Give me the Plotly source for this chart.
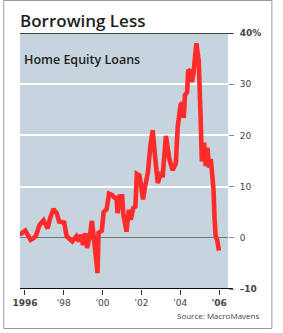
import plotly.graph_objects as go

# Data: year-over-year % change in home equity loans
years = [1995.75, 1995.81, 1996.02, 1996.15, 1996.29, 1996.46, 1996.57, 1996.75, 1996.96, 1997.17,
         1997.30, 1997.47, 1997.64, 1997.76, 1998.02, 1998.15, 1998.44, 1998.65, 1998.78, 1998.89,
         1998.99, 1999.11, 1999.20, 1999.34, 1999.45, 1999.57, 1999.67, 1999.74, 1999.79, 1999.96,
         2000.05, 2000.21, 2000.33, 2000.47, 2000.63, 2000.72, 2000.77, 2000.89, 2001.01, 2001.06,
         2001.23, 2001.35, 2001.45, 2001.57, 2001.69, 2001.76, 2001.90, 2002.08, 2002.19, 2002.33,
         2002.46, 2002.58, 2002.70, 2002.84, 2003.01, 2003.09, 2003.26, 2003.43, 2003.60, 2003.77,
         2003.87, 2004.02, 2004.10, 2004.18, 2004.24, 2004.35, 2004.41, 2004.52, 2004.60, 2004.68,
         2004.83, 2004.95, 2005.05, 2005.11, 2005.23, 2005.31, 2005.40, 2005.48, 2005.57, 2005.66,
         2005.71, 2005.76, 2005.82, 2005.90, 2005.99]
values = [0.8, 0.8, 1.4, 0.6, -0.4, 0.0, 0.4, 2.5, 3.4, 1.8,
          3.9, 5.6, 4.8, 3.2, 3.0, 0.3, -0.7, 0.3, -0.7, 0.6,
          -1.4, 0.9, -2.0, 0.3, 3.3, -0.7, -6.0, -6.9, 1.0, 1.4,
          5.0, 5.6, 8.6, 8.4, 7.8, 7.8, 4.8, 8.1, 8.1, 4.8,
          1.2, 5.5, 3.5, 5.8, 6.1, 12.5, 12.2, 7.5, 10.1, 12.7,
          17.9, 21.0, 15.9, 10.7, 12.8, 11.8, 19.9, 15.5, 13.2, 14.5,
          21.8, 26.0, 26.4, 23.4, 27.9, 28.4, 32.8, 32.5, 30.4, 32.2,
          38.0, 34.5, 23.0, 14.9, 18.6, 14.0, 17.6, 13.7, 15.4, 12.6,
          9.5, 4.2, 0.3, -0.4, -2.5]

x_tick_vals = [1996, 1998, 2000, 2002, 2004, 2006]
x_tick_text = ["<b>1996</b>", "'98", "'00", "'02", "'04", "<b>'06</b>"]
y_tick_vals = [-10, 0, 10, 20, 30, 40]
y_tick_text = ["<b>\u201310</b>", "0", "10", "20", "30", "<b>40%</b>"]

title_text = "Borrowing Less"
subtitle_text = "Home Equity Loans"
source_text = "Source: MacroMavens"

W, H = 283, 333
L, R, T, B = 17, 55, 33, 44
pw, ph = W - L - R, H - T - B

def px(x):
    return (x - L) / pw

def py(y):
    return (H - B - y) / ph

fig = go.Figure()
fig.add_trace(go.Scatter(x=years, y=values, mode="lines",
                         line=dict(color="#ff2a2a", width=4.6, shape="linear"),
                         hoverinfo="skip"))

fig.update_layout(
    width=W, height=H,
    margin=dict(l=L, r=R, t=T, b=B),
    paper_bgcolor="white",
    plot_bgcolor="#c6d5dd",
    showlegend=False,
    xaxis=dict(range=[1995.746, 2006.457], tickvals=x_tick_vals, ticktext=x_tick_text,
               showgrid=False, zeroline=False, showline=False,
               ticks="outside", ticklen=5, tickwidth=1, tickcolor="#333",
               tickfont=dict(family="DejaVu Sans", size=9, color="#444"),
               fixedrange=True),
    yaxis=dict(range=[-10, 40], side="right", tickvals=y_tick_vals, ticktext=y_tick_text,
               showgrid=True, gridcolor="white", gridwidth=1.5,
               zeroline=True, zerolinecolor="#777", zerolinewidth=1,
               showline=False,
               ticks="outside", ticklen=5, tickwidth=1, tickcolor="#888",
               ticklabelstandoff=4,
               tickfont=dict(family="DejaVu Sans", size=9, color="#444"),
               fixedrange=True),
)

# Top rule at 40% and bottom axis rule at -10
fig.add_shape(type="line", xref="paper", yref="y", x0=0, x1=px(233), y0=40, y1=40,
              line=dict(color="#111", width=1.6))
fig.add_shape(type="line", xref="paper", yref="y", x0=0, x1=px(233), y0=-10, y1=-10,
              line=dict(color="#111", width=2))
# Outer border
fig.add_shape(type="rect", xref="paper", yref="paper", x0=px(0.5), x1=px(272.5),
              y0=py(328.5), y1=py(0.5), line=dict(color="#9a9a9a", width=1), layer="above")

fig.add_annotation(text=title_text, xref="paper", yref="paper", x=px(15), y=py(7),
                   xanchor="left", yanchor="top", showarrow=False,
                   font=dict(family="Open Sans", size=17, color="#1e1e1e", weight=600))
fig.add_annotation(text=subtitle_text, xref="paper", yref="paper", x=px(19.5), y=py(49),
                   xanchor="left", yanchor="top", showarrow=False,
                   font=dict(family="Open Sans", size=12.5, color="#222", weight=600))
fig.add_annotation(text=source_text, xref="paper", yref="paper", x=px(261), y=py(308),
                   xanchor="right", yanchor="top", showarrow=False,
                   font=dict(family="Open Sans", size=8, color="#444"))

fig.write_html("out.html", config={"displayModeBar": False})
